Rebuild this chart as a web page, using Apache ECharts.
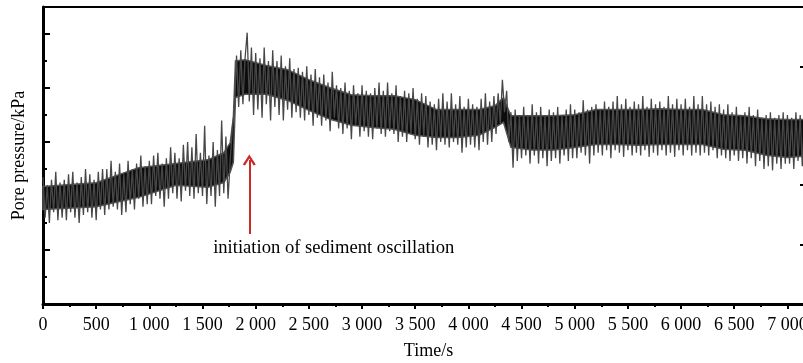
<!DOCTYPE html>
<html>
<head>
<meta charset="utf-8">
<script src="https://cdn.jsdelivr.net/npm/echarts@6/dist/echarts.min.js"></script>
<style>html,body{margin:0;padding:0;background:#fff;}#c{width:803px;height:363px;}</style>
</head>
<body>
<div id="c"></div>
<script>
// sample step of the record (s)
const sampleStep = 20;
// pore pressure trace (arbitrary axis units, one value per sample)
const porePressure = [
 4.7,3.2,4.4,3.0,4.6,3.4,4.9,3.1,4.5,3.2,
 4.6,3.1,4.8,3.4,4.9,3.2,4.5,3.0,4.7,3.3,
 5.0,3.4,4.8,3.2,4.6,3.1,4.9,3.5,5.0,3.3,
 5.0,3.5,5.3,3.6,4.9,3.5,5.2,3.3,4.8,3.4,
 5.3,3.7,5.0,3.5,5.2,3.9,5.5,3.6,5.1,3.7,
 5.3,3.7,5.5,4.0,5.6,3.9,5.2,3.6,5.4,3.9,
 5.8,4.1,5.6,3.9,5.4,3.8,5.9,4.2,6.0,4.0,
 5.8,3.9,6.3,4.1,5.6,4.0,6.6,3.7,5.5,4.0,
 6.0,3.6,5.7,4.0,6.8,4.1,6.2,3.9,5.3,6.5,
 7.2,9.2,7.3,9.4,7.4,9.1,10.05,7.5,9.5,7.0,
 9.3,7.2,9.1,6.9,9.5,7.4,9.0,6.8,9.4,7.3,
 9.0,7.0,9.2,6.8,8.8,7.2,9.1,6.9,8.7,7.1,
 8.75,6.9,8.6,6.8,8.8,7.0,8.5,6.6,8.7,6.9,
 8.4,6.6,8.5,6.8,8.2,6.4,8.6,6.9,8.1,6.5,
 8.0,6.3,8.2,6.5,7.9,6.1,8.1,6.6,7.8,6.2,
 8.1,6.4,7.9,6.2,7.8,6.1,8.0,6.5,8.2,6.3,
 7.9,6.2,8.2,6.4,7.8,6.3,8.1,6.0,7.7,6.2,
 7.9,6.0,7.8,6.3,8.0,6.1,7.6,5.9,7.8,6.2,
 7.7,5.8,7.5,5.9,7.4,5.7,7.6,6.0,7.8,5.9,
 7.5,5.8,7.8,6.0,7.4,5.9,7.7,5.6,7.3,5.8,
 7.6,5.9,7.4,5.8,7.3,5.7,7.6,6.0,7.8,5.9,
 7.5,6.0,7.7,6.3,7.8,6.7,8.3,7.1,7.9,6.0,
 7.1,5.05,7.2,5.3,7.0,5.4,7.3,5.5,7.0,5.2,
 7.4,5.5,7.1,5.2,7.3,5.4,7.0,5.1,7.2,5.3,
 7.1,5.4,7.3,5.2,7.0,5.5,7.2,5.3,7.4,5.4,
 7.2,5.4,7.1,5.6,7.55,5.5,7.2,5.2,7.3,5.5,
 7.4,5.6,7.2,5.5,7.5,5.7,7.3,5.4,7.5,5.7,
 7.7,5.6,7.4,5.45,7.6,5.7,7.3,5.5,7.5,5.6,
 7.4,5.5,7.7,5.7,7.3,5.45,7.6,5.6,7.4,5.5,
 7.5,5.7,7.3,5.5,7.7,5.6,7.4,5.45,7.6,5.7,
 7.4,5.5,7.6,5.7,7.3,5.5,7.7,5.6,7.4,5.5,
 7.7,5.6,7.4,5.5,7.5,5.7,7.3,5.4,7.4,5.5,
 7.2,5.4,7.4,5.3,7.1,5.5,7.3,5.3,7.0,5.4,
 7.1,5.2,7.3,5.4,7.0,5.1,7.2,5.3,6.9,5.0,
 7.0,5.1,7.1,4.95,6.9,5.2,7.0,5.0,7.1,5.2,
 7.0,5.2,6.9,5.0,7.1,5.3,7.0,5.1,6.9,5.2,
 7.0,5.3,6.9
];
// dense (dark) core of the trace
const coreTimes = [0, 500, 900, 1250, 1550, 1700, 1760, 1790, 1810, 1900, 2100, 2300, 2500, 2700, 2900, 3100, 3300, 3500, 3700, 3900, 4100, 4250, 4330, 4400, 4600, 4800, 5000, 5200, 5400, 5600, 5800, 6000, 6200, 6400, 6600, 6800, 7000, 7250];
const coreLow  = [3.50, 3.60, 3.95, 4.40, 4.32, 4.50, 4.88, 5.25, 7.65, 7.77, 7.77, 7.54, 7.17, 6.84, 6.62, 6.54, 6.47, 6.25, 6.17, 6.17, 6.25, 6.54, 6.73, 5.80, 5.70, 5.70, 5.80, 5.91, 5.91, 5.88, 5.91, 5.91, 5.91, 5.73, 5.69, 5.51, 5.43, 5.51];
const coreHigh = [4.35, 4.49, 5.05, 5.20, 5.34, 5.60, 5.97, 6.90, 9.00, 9.05, 8.83, 8.68, 8.31, 8.01, 7.75, 7.71, 7.71, 7.57, 7.20, 7.20, 7.20, 7.34, 7.64, 6.97, 6.97, 6.97, 7.01, 7.20, 7.20, 7.20, 7.23, 7.20, 7.20, 7.01, 6.97, 6.86, 6.83, 6.83];
// annotation
const arrowTime = 1940;          // s
const arrowFrom = 2.59;          // axis units
const arrowTo = 5.33;
const noteText = 'initiation of sediment oscillation';
const noteAnchor = [1600, 2.07];

const xMax = 7250, xMajor = 500, xMinor = 250;
const yMax = 11;
const axisTitleX = 'Time/s';
const axisTitleY = 'Pore pressure/kPa';

const FONT = 'Liberation Serif';
const fmtX = v => {
  if (v % xMajor !== 0 || v >= xMax) return '';
  const s = String(v);
  return s.length > 3 ? s.slice(0, s.length - 3) + ' ' + s.slice(-3) : s;
};

const chart = echarts.init(document.getElementById('c'), null, {renderer: 'canvas'});
chart.setOption({
  animation: false,
  backgroundColor: '#fff',
  grid: {left: 43, right: -11, top: 7, bottom: 59, containLabel: false, outerBoundsMode: 'none'},
  xAxis: [
    {type: 'value', min: 0, max: xMax, interval: xMajor, position: 'bottom',
     axisLine: {show: true, onZero: false, lineStyle: {color: '#000', width: 3}},
     axisTick: {show: true, inside: false, length: 5, lineStyle: {color: '#000', width: 2}},
     axisLabel: {show: true, formatter: fmtX, margin: 12, color: '#000', fontFamily: FONT, fontSize: 18, showMaxLabel: false},
     splitLine: {show: false},
     name: axisTitleX, nameLocation: 'middle', nameGap: 38,
     nameTextStyle: {color: '#000', fontFamily: FONT, fontSize: 18}},
    {type: 'value', min: 0, max: xMax, interval: xMinor, position: 'bottom',
     axisLine: {show: false, onZero: false}, axisLabel: {show: false}, splitLine: {show: false},
     axisTick: {show: true, inside: false, length: 3, lineStyle: {color: '#000', width: 2}}},
    {type: 'value', min: 0, max: xMax, position: 'top',
     axisLine: {show: true, onZero: false, lineStyle: {color: '#000', width: 2}},
     axisTick: {show: false}, axisLabel: {show: false}, splitLine: {show: false}}
  ],
  yAxis: [
    {type: 'value', min: 0, max: yMax, interval: 1, position: 'left',
     axisLine: {show: true, onZero: false, lineStyle: {color: '#000', width: 3}},
     axisTick: {show: true, inside: true, length: 4, lineStyle: {color: '#000', width: 2}},
     axisLabel: {show: false}, splitLine: {show: false},
     name: axisTitleY, nameLocation: 'middle', nameGap: 15, nameRotate: 90,
     nameTextStyle: {color: '#000', fontFamily: FONT, fontSize: 18}},
    {type: 'value', min: -1, max: yMax - 1, interval: 2, position: 'left',
     axisLine: {show: false, onZero: false}, axisLabel: {show: false}, splitLine: {show: false},
     axisTick: {show: true, inside: true, length: 7, lineStyle: {color: '#000', width: 2}}},
    {type: 'value', min: 0, max: 5, interval: 1, position: 'right',
     axisLine: {show: true, onZero: false, lineStyle: {color: '#000', width: 2}},
     axisTick: {show: true, inside: true, length: 14, lineStyle: {color: '#000', width: 2}},
     axisLabel: {show: false}, splitLine: {show: false}}
  ],
  series: [
    {type: 'custom', xAxisIndex: 0, yAxisIndex: 0, silent: true, z: 1,
     data: [0],
     renderItem: function (params, api) {
       const upper = coreTimes.map((t, i) => api.coord([t, coreHigh[i]]));
       const lower = coreTimes.map((t, i) => api.coord([t, coreLow[i]])).reverse();
       return {type: 'polygon', shape: {points: upper.concat(lower)},
               style: {fill: '#0c0c0c', stroke: '#555', lineWidth: 1.5}};
     }},
    {type: 'line',
    xAxisIndex: 0, yAxisIndex: 0,
    data: porePressure.map((v, i) => [i * sampleStep, v]),
    showSymbol: false, symbol: 'none',
    lineStyle: {color: '#474747', width: 1.3},
    sampling: 'none',
    silent: true, z: 2,
    markLine: {
      silent: true, animation: false,
      symbol: ['none', 'path://M0,10 L7,0 L14,10 L11.6,11 L7,3.8 L2.4,11 Z'],
      symbolSize: [13, 11],
      lineStyle: {color: '#cc2a27', width: 2, type: 'solid'},
      label: {show: false},
      data: [[{coord: [arrowTime, arrowFrom]}, {coord: [arrowTime, arrowTo]}]]
    },
    markPoint: {
      silent: true, animation: false,
      symbol: 'circle', symbolSize: 0,
      data: [{coord: noteAnchor}],
      label: {show: true, position: 'right', distance: 0, formatter: noteText,
              color: '#000', fontFamily: FONT, fontSize: 18.6}
    }
  }]
});
</script>
</body>
</html>
